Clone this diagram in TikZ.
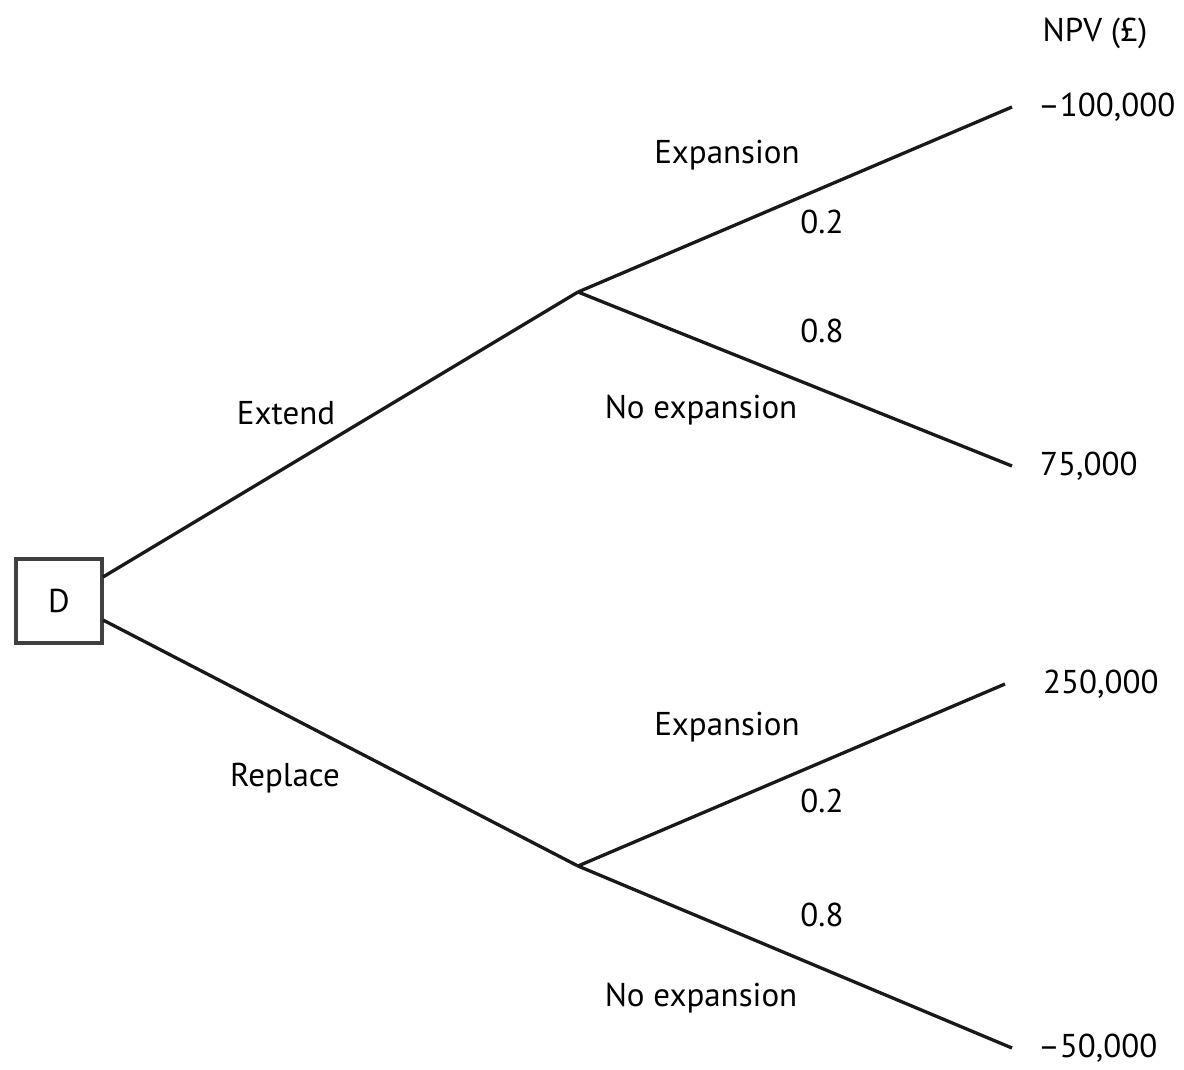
\documentclass[tikz,border=0pt]{standalone}
\usepackage{fontspec}
\setmainfont{PT Sans}
\begin{document}
\begin{tikzpicture}[x=1pt,y=-1pt,
  lbl/.style={font=\fontsize{33}{38}\selectfont, inner sep=0pt},
  br/.style={line width=3.3pt, draw=black!90},
  pt/.style={inner sep=0pt, minimum size=0pt}]
\useasboundingbox (0,0) rectangle (1184,1069);
\node[draw=black!75, line width=3.6pt, minimum width=86pt, minimum height=84pt, inner sep=0pt, lbl] (D) at (59,601) {D};
\coordinate (Dt) at (103,577);
\coordinate (Db) at (103,620);
\coordinate (U) at (578,292);
\coordinate (L) at (578,866);
\coordinate (U1) at (1012,107);
\coordinate (U2) at (1012,466);
\coordinate (L1) at (1005,684);
\coordinate (L2) at (1012,1048);
\draw[br] (Dt) -- (U);
\draw[br] (Db) -- (L);
\draw[br] (U) -- (U1);
\draw[br] (U) -- (U2);
\draw[br] (L) -- (L1);
\draw[br] (L) -- (L2);
\node[lbl] (npv) at (1095,33) {NPV (£)};
\node[lbl, anchor=west] (v1) at (1038,107) {–100,000};
\node[lbl, anchor=west] (v2) at (1040,466) {75,000};
\node[lbl, anchor=west] (v3) at (1043,684) {250,000};
\node[lbl, anchor=west] (v4) at (1038,1048) {–50,000};
\node[lbl] (e1) at (727,155) {Expansion};
\node[lbl] (p1) at (822,222) {0.2};
\node[lbl] (p2) at (822,331) {0.8};
\node[lbl] (n1) at (701,410) {No expansion};
\node[lbl] (ext) at (286,413) {Extend};
\node[lbl] (rep) at (285,778) {Replace};
\node[lbl] (e2) at (727,727) {Expansion};
\node[lbl] (p3) at (822,801) {0.2};
\node[lbl] (p4) at (822,915) {0.8};
\node[lbl] (n2) at (701,998) {No expansion};
\end{tikzpicture}
\end{document}
